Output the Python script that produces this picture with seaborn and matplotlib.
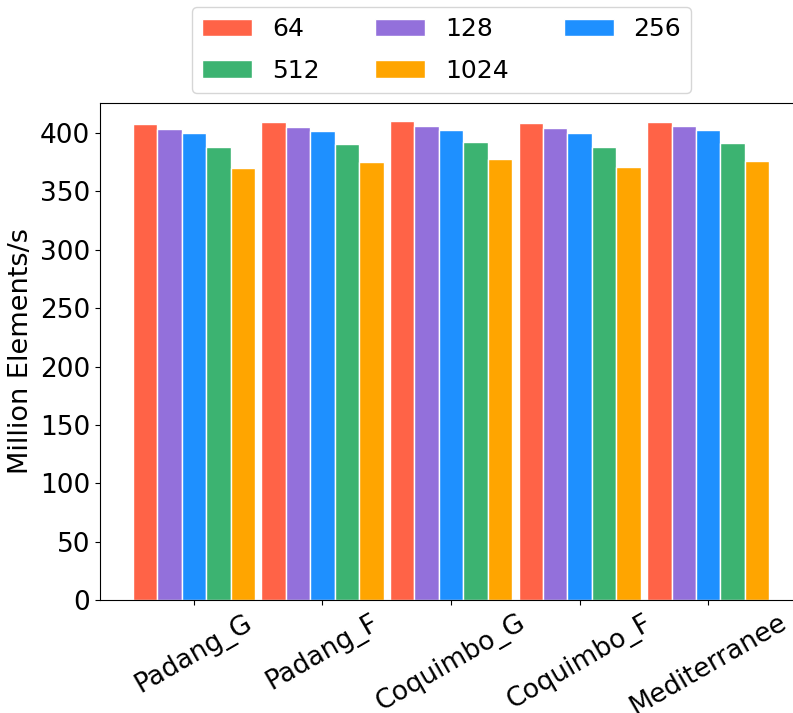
import pandas as pd
import matplotlib
matplotlib.use("Agg")
import matplotlib.pyplot as plt
import seaborn as sns

# datasets on the x axis
datasets = ["Padang_G", "Padang_F", "Coquimbo_G", "Coquimbo_F", "Mediterranee"]
# block sizes (legend entries)
block_sizes = ["64", "128", "256", "512", "1024"]

# throughput in million elements / s, one list per block size
vals_64 = [407.7, 409.4, 410.0, 408.6, 409.7]
vals_128 = [403.2, 404.9, 405.7, 404.0, 405.7]
vals_256 = [400.3, 401.7, 402.6, 400.0, 402.3]
vals_512 = [388.3, 390.8, 392.0, 387.7, 391.7]
vals_1024 = [370.0, 374.9, 377.7, 370.9, 376.3]

colors = ["tomato", "mediumpurple", "dodgerblue", "mediumseagreen", "orange"]

rows = []
for size, vals in zip(block_sizes, [vals_64, vals_128, vals_256, vals_512, vals_1024]):
    for name, v in zip(datasets, vals):
        rows.append({"dataset": name, "block": size, "value": v})
df = pd.DataFrame(rows)

fig = plt.figure(figsize=(7.93, 7.13), dpi=100)
ax = fig.add_axes([0.1261, 0.1585, 0.8853, 0.6975])

sns.barplot(data=df, x="dataset", y="value", hue="block", hue_order=block_sizes,
            order=datasets, palette=colors, width=0.95, edgecolor="white",
            linewidth=1, saturation=1, legend=False, ax=ax)

ax.set_ylim(0, 426)
ax.set_xlim(-0.73, 4.73)
ax.set_yticks(range(0, 401, 50))
ax.set_xlabel("")
ax.set_ylabel("Million Elements/s", fontsize=19.5)
ax.tick_params(axis="both", labelsize=19)
plt.setp(ax.get_xticklabels(), rotation=30)

# legend is filled row by row: 64 128 256 / 512 1024
handles = {b: plt.Rectangle((0, 0), 1, 1, facecolor=c, edgecolor="white")
           for b, c in zip(block_sizes, colors)}
leg_order = ["64", "512", "128", "1024", "256"]
fig.legend([handles[b] for b in leg_order], leg_order, loc="upper center",
           bbox_to_anchor=(0.557, 0.99), borderaxespad=0, ncol=3, fontsize=18,
           columnspacing=2.2, labelspacing=0.7)

fig.savefig("out.png", dpi=100)
plt.close(fig)
